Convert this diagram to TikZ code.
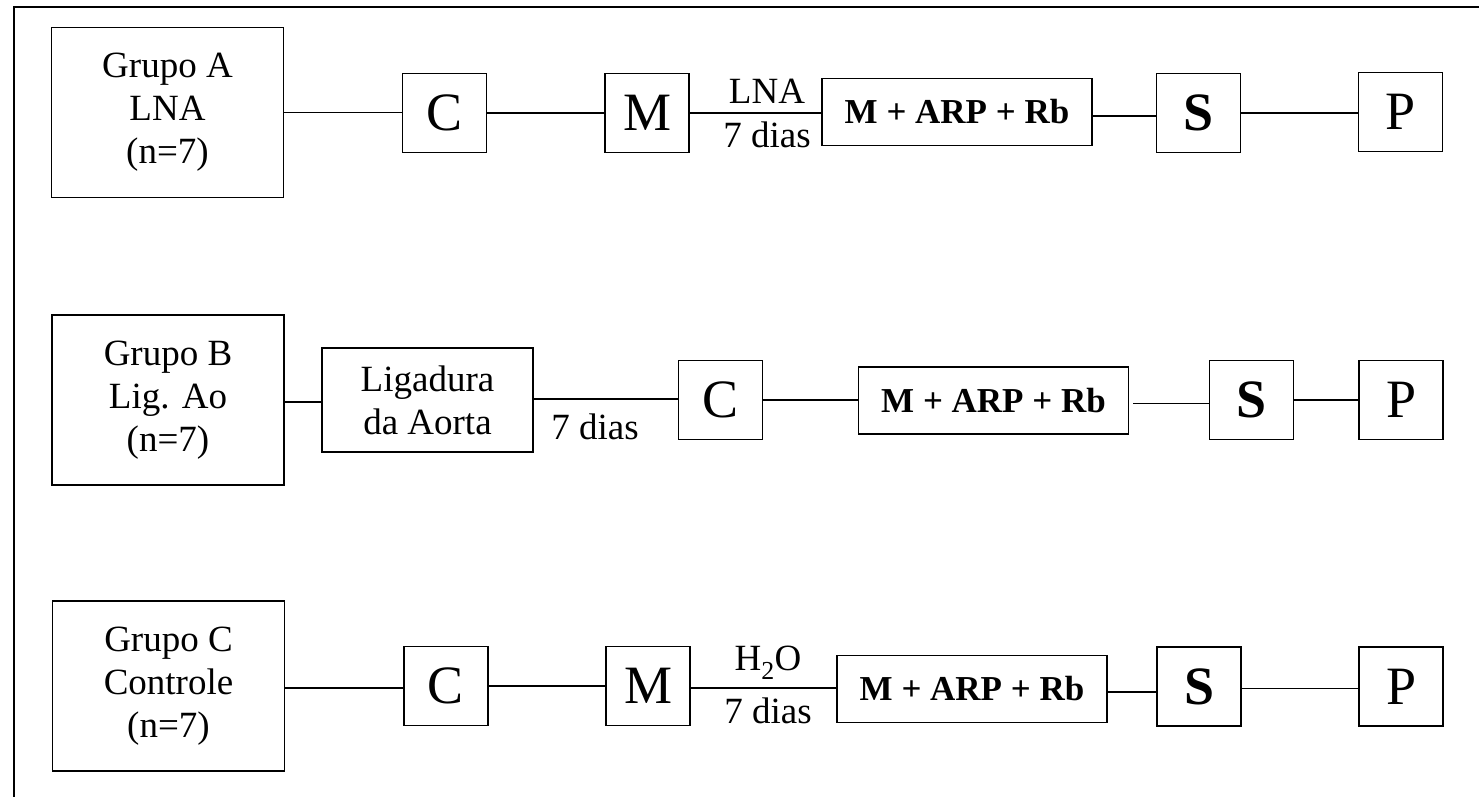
\documentclass[tikz,border=0pt]{standalone}
\usepackage{fontspec}
\setmainfont{Liberation Serif}
\begin{document}
\begin{tikzpicture}[x=1pt,y=-1pt,
  box/.style={draw, line width=1.8pt, inner sep=0pt, align=center},
  grp/.style={box, minimum width=232pt, minimum height=170pt, font=\fontsize{37}{43}\selectfont},
  ltr/.style={box, minimum width=84pt, minimum height=79pt, font=\fontsize{54}{54}\selectfont},
  marp/.style={box, minimum width=270pt, minimum height=67pt, font=\fontsize{35}{40}\selectfont\bfseries},
  lig/.style={box, minimum width=211pt, minimum height=104pt, font=\fontsize{37}{43}\selectfont},
  lbl/.style={inner sep=0pt, align=center, font=\fontsize{37}{43}\selectfont},
  conn/.style={line width=1.8pt}]
\useasboundingbox (0,0) rectangle (1479,797);
% frame
\coordinate (ftr) at (1479,7);
\coordinate (ftl) at (14,7);
\coordinate (fbl) at (14,797);
\draw[line width=1.8pt] (ftr) -- (ftl) -- (fbl);

% Row A
\node[grp] (ga) at (167.5,112.5) {Grupo A\\LNA\\(n=7)};
\node[ltr] (ca) at (444.5,113) {C};
\node[ltr] (ma) at (647,113) {M};
\node[marp] (ra) at (957,112) {M + ARP + Rb};
\node[ltr] (sa) at (1198.5,113) {\bfseries S};
\node[ltr] (pa) at (1400.5,112) {P};
\node[lbl] (la1) at (767,91) {LNA};
\node[lbl] (la2) at (767,135) {7 dias};
\draw[conn] (ga.east) -- (ga.east -| ca.west);
\draw[conn] (ca.east) -- (ca.east -| ma.west);
\draw[conn] (ma.east) -- (ma.east -| ra.west);
\draw[conn] ([yshift=-4pt]ra.east) -- ([yshift=-4pt]ra.east -| sa.west);
\draw[conn] (sa.east) -- (sa.east -| pa.west);

% Row B
\node[grp] (gb) at (168,400) {Grupo B\\Lig. Ao\\(n=7)};
\node[lig] (lb) at (427.5,400) {Ligadura\\da Aorta};
\node[ltr] (cb) at (720.5,400) {C};
\node[marp] (rb) at (993.5,400.5) {M + ARP + Rb};
\node[ltr] (sb) at (1251.5,400) {\bfseries S};
\node[ltr] (pb) at (1401,400) {P};
\node[lbl] (lb1) at (595,427) {7 dias};
\draw[conn] ([yshift=-2pt]gb.east) -- ([yshift=-2pt]gb.east -| lb.west);
\draw[conn] ([yshift=1pt]lb.east) -- ([yshift=1pt]lb.east -| cb.west);
\draw[conn] (cb.east) -- (cb.east -| rb.west);
\draw[conn] ([xshift=4pt,yshift=-3pt]rb.east) -- ([yshift=-3pt]rb.east -| sb.west);
\draw[conn] (sb.east) -- (sb.east -| pb.west);

% Row C
\node[grp] (gc) at (168.5,686) {Grupo C\\Controle\\(n=7)};
\node[ltr] (cc) at (446,686) {C};
\node[ltr] (mc) at (648,686) {M};
\node[marp] (rc) at (972,689) {M + ARP + Rb};
\node[ltr] (sc) at (1199,686.5) {\bfseries S};
\node[ltr] (pc) at (1401,686.5) {P};
\node[lbl] (lc1) at (768,663) {H\textsubscript{2}O};
\node[lbl] (lc2) at (768,711) {7 dias};
\draw[conn] ([yshift=-2pt]gc.east) -- ([yshift=-2pt]gc.east -| cc.west);
\draw[conn] (cc.east) -- (cc.east -| mc.west);
\draw[conn] ([yshift=-2pt]mc.east) -- ([yshift=-2pt]mc.east -| rc.west);
\draw[conn] ([yshift=-3pt]rc.east) -- ([yshift=-3pt]rc.east -| sc.west);
\draw[conn] ([yshift=-2pt]sc.east) -- ([yshift=-2pt]sc.east -| pc.west);
\end{tikzpicture}
\end{document}
